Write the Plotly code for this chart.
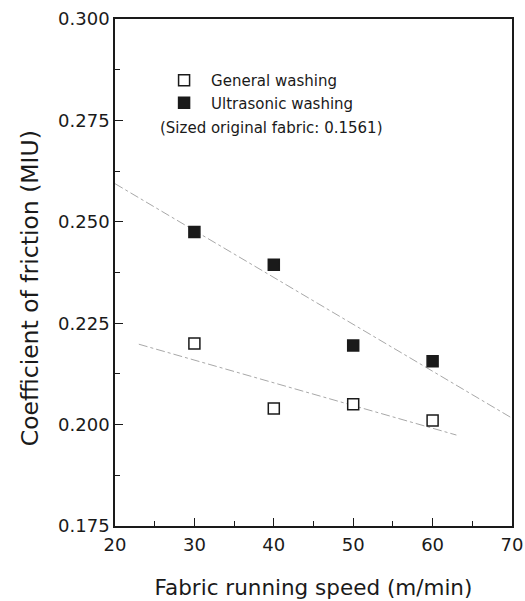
import numpy as np
import plotly.graph_objects as go

# Fabric running speed (m/min)
speed = [30, 40, 50, 60]
# Coefficient of friction after each washing method
general_miu = [0.2200, 0.2040, 0.2050, 0.2010]
ultrasonic_miu = [0.2475, 0.2394, 0.2195, 0.2156]

# speed span covered by each trend line
general_fit_range = [23, 63]
ultrasonic_fit_range = [20, 70]

x_ticks = [20, 30, 40, 50, 60, 70]
y_ticks = [0.175, 0.200, 0.225, 0.250, 0.275, 0.300]

FONT = "DejaVu Sans, Liberation Sans, Arial, sans-serif"
INK = "#1a1a1a"


def linear_fit(x, y, xr):
    k, b = np.polyfit(x, y, 1)
    xr = np.array(xr, dtype=float)
    return xr, k * xr + b


fig = go.Figure()

# least-squares trend lines
for ys, xr in ((ultrasonic_miu, ultrasonic_fit_range),
               (general_miu, general_fit_range)):
    fx, fy = linear_fit(speed, ys, xr)
    fig.add_trace(go.Scatter(
        x=fx, y=fy, mode="lines", showlegend=False, hoverinfo="skip",
        line=dict(color="#a8a8a8", width=1, dash="dashdot"),
    ))

fig.add_trace(go.Scatter(
    x=speed, y=general_miu, mode="markers", name="General washing",
    legendgroup="general",
    marker=dict(symbol="square", size=11, color="white",
                line=dict(color=INK, width=1.5)),
))
fig.add_trace(go.Scatter(
    x=speed, y=ultrasonic_miu, mode="markers", name="Ultrasonic washing",
    legendgroup="ultrasonic",
    marker=dict(symbol="square", size=11, color=INK,
                line=dict(color=INK, width=1.5)),
))

fig.add_annotation(
    x=0.395, y=0.785, xref="paper", yref="paper",
    text="(Sized original fabric: 0.1561)", showarrow=False,
    font=dict(family=FONT, size=15, color=INK),
    xanchor="center", yanchor="middle",
)

# y-axis title, set slightly below the axis midpoint
fig.add_annotation(
    x=-0.214, y=0.469, xref="paper", yref="paper",
    text="Coefficient of friction (MIU)", showarrow=False, textangle=-90,
    font=dict(family=FONT, size=23.5, color=INK),
    xanchor="center", yanchor="middle",
)

axis_common = dict(
    showline=True, linecolor=INK, linewidth=1.5, mirror=True,
    ticks="inside", ticklen=8, tickwidth=1, tickcolor=INK,
    showgrid=False, zeroline=False, automargin=False,
    tickfont=dict(family=FONT, size=18, color=INK),
)

fig.update_xaxes(
    range=[20, 70], tickvals=x_ticks, ticktext=[str(v) for v in x_ticks],
    minor=dict(ticks="inside", ticklen=5, tickwidth=1, tickcolor=INK, dtick=5),
    title=dict(text="Fabric running speed (m/min)", standoff=26,
               font=dict(family=FONT, size=21.5, color=INK)),
    ticklabelstandoff=2,
    **axis_common,
)
fig.update_yaxes(
    range=[0.175, 0.300], tickvals=y_ticks,
    ticktext=[f"{v:.3f}" for v in y_ticks],
    minor=dict(ticks="inside", ticklen=5, tickwidth=1, tickcolor=INK,
               tick0=0.175, dtick=0.0125),
    **axis_common,
)

fig.update_layout(
    width=525, height=601,
    margin=dict(l=115, r=13, t=19, b=75),
    paper_bgcolor="white", plot_bgcolor="white",
    font=dict(family=FONT, color=INK),
    legend=dict(
        x=0.106, y=0.911, xanchor="left", yanchor="top",
        bgcolor="rgba(0,0,0,0)", borderwidth=0,
        font=dict(family=FONT, size=15, color=INK),
        itemwidth=44, tracegroupgap=0,
    ),
)

fig.write_html("out.html")
